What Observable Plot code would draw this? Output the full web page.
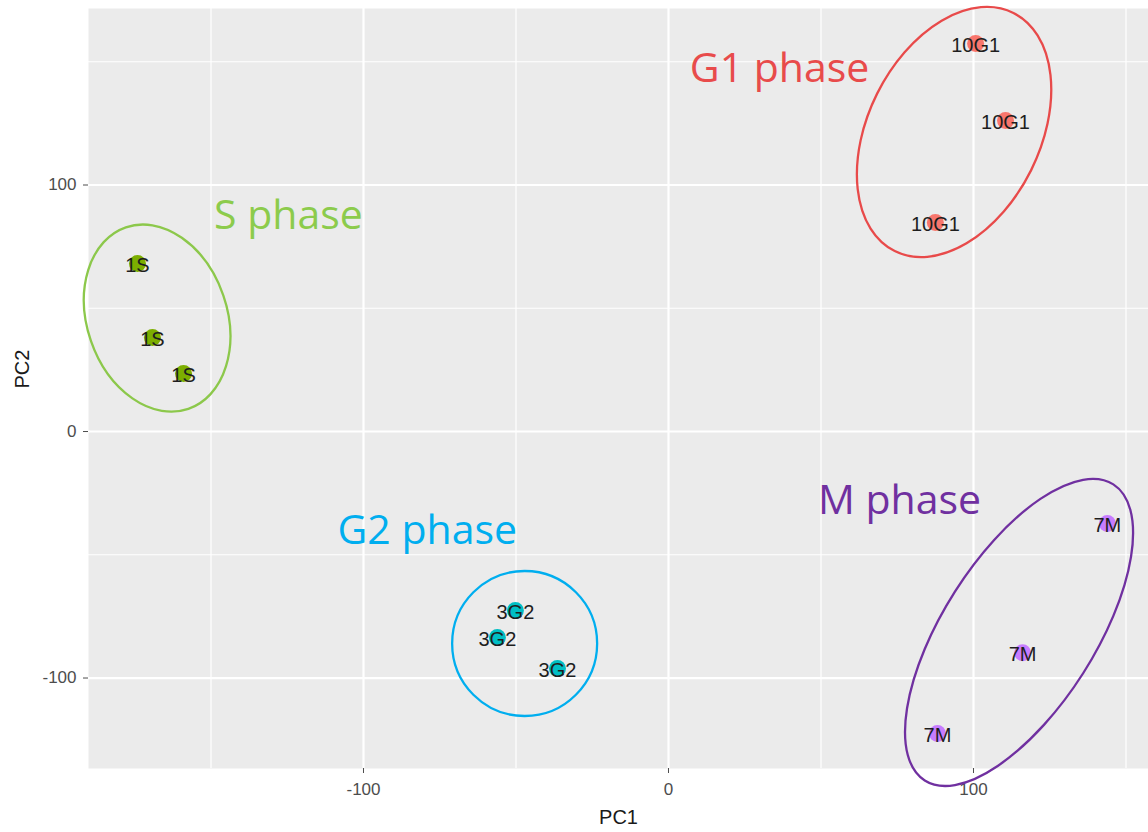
<!DOCTYPE html>
<html>
<head>
<meta charset="utf-8">
<script src="https://cdn.jsdelivr.net/npm/d3@7"></script>
<script src="https://cdn.jsdelivr.net/npm/@observablehq/plot@0.6"></script>
<style>
  html, body { margin: 0; padding: 0; background: #ffffff; }
  #chart svg { display: block; }
</style>
</head>
<body>
<div id="chart"></div>
<script>
// PCA scores of the cell-cycle samples
const sampleLabels = ["10G1", "10G1", "10G1", "1S", "1S", "1S", "3G2", "3G2", "3G2", "7M", "7M", "7M"];
const samplePhase  = ["G1", "G1", "G1", "S", "S", "S", "G2", "G2", "G2", "M", "M", "M"];
const pc1 = [100.7, 110.5, 87.5, -174.1, -169.2, -159.0, -50.2, -56.1, -36.4, 143.9, 116.1, 88.2];
const pc2 = [157.4, 126.2, 84.8, 68.2, 38.1, 23.5, -72.6, -83.6, -96.1, -37.3, -89.7, -122.5];

// Phase colours of the points
const phaseOrder = ["G1", "G2", "M", "S"];
const phaseColors = ["#F8766D", "#00BFC4", "#C77CFF", "#7CAE00"];

// Axis ticks and grid
const majorTicksX = [-100, 0, 100];
const minorTicksX = [-150, -50, 50, 150];
const majorTicksY = [-100, 0, 100];
const minorTicksY = [-50, 50, 150];

// Hand-drawn phase annotations: label anchor in PC units
const phaseNames  = ["G1 phase", "S phase", "G2 phase", "M phase"];
const nameX       = [7.0, -149.0, -108.5, 49.0];
const nameY       = [147.3, 87.3, -40.4, -28.0];
const nameColors  = ["#E84B4B", "#8CCB4C", "#00AEEF", "#7030A0"];

// Outline ellipses around each group: centre in PC units, radii in pixels, tilt in degrees
const ringX     = [93.8, -167.5, -47.0, 115.1];
const ringY     = [121.3, 45.8, -86.2, -81.7];
const ringRx    = [86, 70, 72.5, 76];
const ringRy    = [133, 96, 72.5, 175.5];
const ringTilt  = [26.5, -19, 0, 32.5];
const ringColor = ["#E84A4A", "#8CC84B", "#00AEEF", "#7030A0"];

const samples = sampleLabels.map((label, i) => ({label, phase: samplePhase[i], pc1: pc1[i], pc2: pc2[i]}));
const names = phaseNames.map((text, i) => ({text, x: nameX[i], y: nameY[i], color: nameColors[i]}));
const rings = ringX.map((cx, i) => ({cx, cy: ringY[i], rx: ringRx[i], ry: ringRy[i], tilt: ringTilt[i], color: ringColor[i]}));

const plainNumber = d => String(d);

const chart = Plot.plot({
  width: 1148,
  height: 832,
  marginLeft: 88,
  marginRight: 0,
  marginTop: 8,
  marginBottom: 64,
  style: {fontFamily: "'Liberation Sans', Arial, sans-serif", background: "#ffffff"},
  x: {domain: [-190.16, 157.38]},
  y: {domain: [-136.7, 171.6]},
  color: {domain: phaseOrder, range: phaseColors},
  marks: [
    Plot.frame({fill: "#EBEBEB", stroke: null}),
    Plot.ruleX(minorTicksX, {stroke: "#ffffff", strokeWidth: 1.2}),
    Plot.ruleY(minorTicksY, {stroke: "#ffffff", strokeWidth: 1.2}),
    Plot.ruleX(majorTicksX, {stroke: "#ffffff", strokeWidth: 2.2}),
    Plot.ruleY(majorTicksY, {stroke: "#ffffff", strokeWidth: 2.2}),
    Plot.axisX(majorTicksX, {tickSize: 5, tickPadding: 9, fontSize: 17, label: null, color: "#4D4D4D", tickFormat: plainNumber}),
    Plot.axisY(majorTicksY, {tickSize: 5, tickPadding: 7, fontSize: 17, label: null, color: "#4D4D4D", tickFormat: plainNumber}),
    Plot.text(["PC1"], {frameAnchor: "bottom", dy: 55, fontSize: 20, fill: "#1A1A1A"}),
    Plot.text(["PC2"], {frameAnchor: "left", dx: -66, rotate: -90, fontSize: 20, fill: "#1A1A1A"}),
    Plot.dot(samples, {x: "pc1", y: "pc2", fill: "phase", r: 8.5, stroke: null}),
    Plot.text(samples, {x: "pc1", y: "pc2", text: "label", fontSize: 20, fill: "#1E1E1E", dy: 2}),
    Plot.text(names, {x: "x", y: "y", text: "text", fill: "color", textAnchor: "start",
      fontSize: 41, fontFamily: "'Open Sans', 'Noto Sans', sans-serif"})
  ]
});

// Group outlines placed through the plot's own x and y scales
const sx = chart.scale("x");
const sy = chart.scale("y");
d3.select(chart).append("g")
  .attr("fill", "none")
  .selectAll("ellipse")
  .data(rings)
  .join("ellipse")
  .attr("transform", d => `translate(${sx.apply(d.cx)},${sy.apply(d.cy)}) rotate(${d.tilt})`)
  .attr("rx", d => d.rx)
  .attr("ry", d => d.ry)
  .attr("stroke", d => d.color)
  .attr("stroke-width", 2.3);

document.getElementById("chart").append(chart);
</script>
</body>
</html>
